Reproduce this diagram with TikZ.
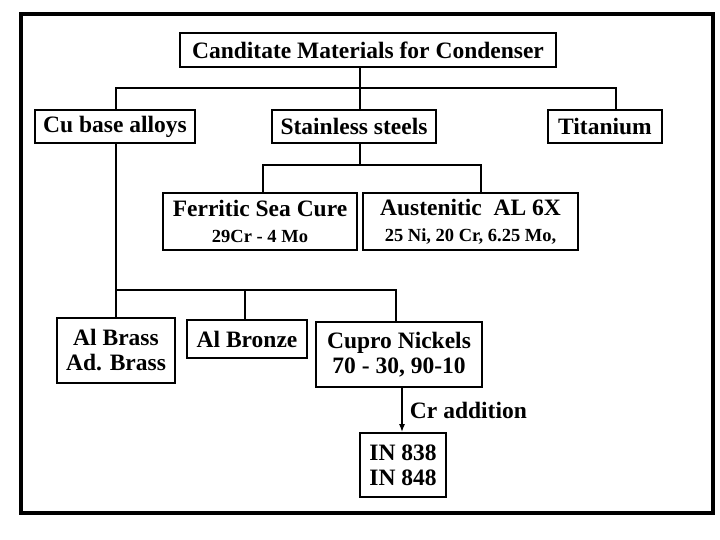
\documentclass[tikz,border=0pt]{standalone}
\usepackage{fontspec}
\usetikzlibrary{arrows.meta}
\setmainfont{Liberation Serif}
\begin{document}
\begin{tikzpicture}[x=1pt,y=-1pt,
 bx/.style={draw,line width=1.8pt,inner sep=0pt,align=center,font=\bfseries\fontsize{23.5}{25}\selectfont},
 ln/.style={line width=1.3pt}]
\useasboundingbox (0,0) rectangle (720,540);
\draw[line width=4.5pt] (21,14) rectangle (713,513);
\newcommand\bxat[6]{\node[bx,minimum width={#3-#2},minimum height={#5-#4}] (#1) at ({(#2+#3)/2},{(#4+#5)/2}) {#6};}
\bxat{t}{180}{556}{33}{67}{Canditate Materials for Condenser}
\bxat{cu}{35}{195}{110}{143}{Cu base alloys}
\bxat{ss}{272}{436}{110}{143}{Stainless steels}
\bxat{ti}{548}{662}{110}{143}{Titanium}
\bxat{fe}{163}{357}{193}{250}{Ferritic Sea Cure\\[1pt]{\fontsize{18.5}{20}\selectfont 29Cr - 4 Mo}}
\bxat{au}{363}{578}{193}{250}{Austenitic\ \ AL 6X\\[1pt]{\fontsize{18.5}{20}\selectfont 25 Ni, 20 Cr, 6.25 Mo,}}
\bxat{ab}{57}{175}{318}{383}{Al Brass\\Ad. Brass}
\bxat{bz}{187}{307}{320}{358}{Al Bronze}
\bxat{cn}{316}{482}{322}{387}{Cupro Nickels\\70 - 30, 90-10}
\bxat{in}{360}{446}{433}{497}{IN 838\\IN 848}
\coordinate (h1) at (360,88);
\draw[ln] (t.south -| h1) -- (ss.north -| h1);
\draw[ln] (cu.north -| 116,0) |- (h1) -| (ti.north -| 616,0);
\coordinate (h2) at (360,165);
\draw[ln] (ss.south -| h2) -- (h2);
\draw[ln] (fe.north -| 263,0) |- (h2) -| (au.north -| 481,0);
\coordinate (h3) at (116,290);
\draw[ln] (cu.south -| h3) -- (ab.north -| h3);
\draw[ln] (h3) -| (bz.north -| 245,0);
\draw[ln] (h3) -| (cn.north -| 396,0);
\draw[ln,-{Latex[length=8pt,width=6pt]}] (cn.south -| 402,0) -- (in.north -| 402,0) node[midway,right=4pt,font=\bfseries\fontsize{23.5}{25}\selectfont]{Cr addition};
\end{tikzpicture}
\end{document}
